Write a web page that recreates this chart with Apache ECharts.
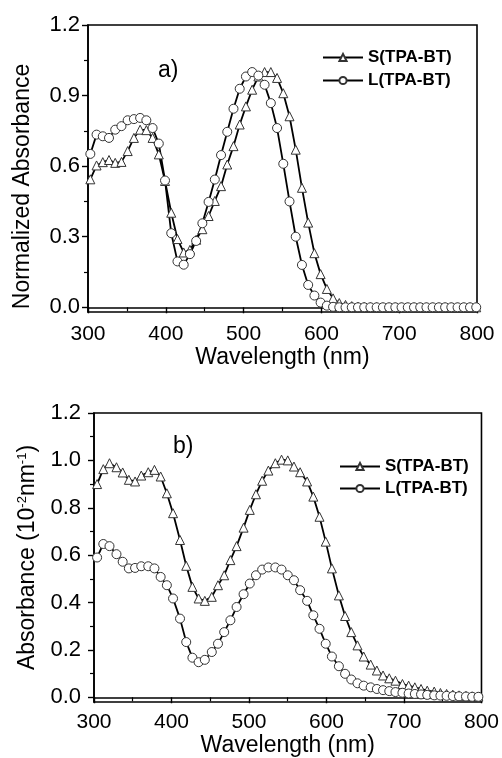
<!DOCTYPE html>
<html>
<head>
<meta charset="utf-8">
<script src="https://cdn.jsdelivr.net/npm/echarts@6/dist/echarts.min.js"></script>
<style>
  html, body { margin: 0; padding: 0; background: #fff; }
  #chart { width: 502px; height: 758px; }
</style>
</head>
<body>
<div id="chart"></div>
<script>
// panel a) normalized absorbance
var waveA = [303, 311, 319, 327, 335, 343, 351, 359, 367, 375,
  383, 391, 399, 407, 415, 423, 431, 439, 447, 455,
  463, 471, 479, 487, 495, 503, 511, 519, 527, 535,
  543, 551, 559, 567, 575, 583, 591, 599, 607, 615,
  623, 631, 639, 647, 655, 663, 671, 679, 687, 695,
  703, 711, 719, 727, 735, 743, 751, 759, 767, 775,
  783, 791, 799];
var sA = [0.544, 0.603, 0.617, 0.626, 0.614, 0.618, 0.664, 0.72, 0.755, 0.753,
  0.72, 0.65, 0.537, 0.402, 0.29, 0.233, 0.244, 0.287, 0.332, 0.388,
  0.452, 0.515, 0.607, 0.685, 0.777, 0.854, 0.925, 0.981, 1.0, 1.0,
  0.975, 0.91, 0.812, 0.67, 0.508, 0.36, 0.23, 0.141, 0.078, 0.038,
  0.018, 0.01, 0.005, 0.003, 0.002, 0.001, 0.001, 0, 0, 0,
  0, 0, 0, 0, 0, 0, 0, 0, 0, 0,
  0, 0, 0];
var lA = [0.652, 0.734, 0.727, 0.72, 0.755, 0.77, 0.795, 0.8, 0.805, 0.795,
  0.762, 0.696, 0.539, 0.315, 0.195, 0.181, 0.226, 0.282, 0.357, 0.448,
  0.543, 0.647, 0.746, 0.844, 0.929, 0.981, 1.0, 0.985, 0.946, 0.868,
  0.762, 0.61, 0.45, 0.3, 0.18, 0.095, 0.05, 0.02, 0.007, 0.002,
  0, 0, 0, 0, 0, 0, 0, 0, 0, 0,
  0, 0, 0, 0, 0, 0, 0, 0, 0, 0,
  0, 0, 0];

// panel b) absorbance (10^-2 nm^-1)
var waveB = [304, 312, 320, 329, 337, 345, 353, 361, 370, 378,
  386, 394, 402, 411, 419, 427, 435, 443, 452, 460,
  468, 476, 484, 493, 501, 509, 517, 525, 534, 542,
  550, 558, 566, 575, 583, 591, 599, 607, 616, 624,
  632, 640, 648, 657, 665, 673, 681, 689, 698, 706,
  714, 722, 730, 739, 747, 755, 763, 771, 780, 788,
  796];
var sB = [0.9, 0.963, 0.988, 0.971, 0.949, 0.918, 0.911, 0.936, 0.95, 0.96,
  0.932, 0.861, 0.777, 0.664, 0.555, 0.466, 0.417, 0.407, 0.424, 0.473,
  0.515, 0.579, 0.638, 0.716, 0.791, 0.857, 0.914, 0.957, 0.988, 1.003,
  1.0, 0.974, 0.95, 0.911, 0.847, 0.762, 0.657, 0.544, 0.43, 0.343,
  0.275, 0.219, 0.172, 0.138, 0.113, 0.092, 0.08, 0.07, 0.056, 0.049,
  0.042, 0.035, 0.028, 0.024, 0.018, 0.014, 0.011, 0.008, 0.006, 0.004,
  0.003];
var lB = [0.59, 0.647, 0.638, 0.604, 0.572, 0.544, 0.546, 0.553, 0.553, 0.544,
  0.508, 0.473, 0.417, 0.332, 0.233, 0.167, 0.148, 0.158, 0.191, 0.226,
  0.275, 0.325, 0.381, 0.435, 0.48, 0.515, 0.539, 0.548, 0.548, 0.539,
  0.515, 0.494, 0.452, 0.407, 0.346, 0.289, 0.226, 0.172, 0.131, 0.099,
  0.075, 0.059, 0.049, 0.042, 0.035, 0.03, 0.026, 0.022, 0.019, 0.016,
  0.014, 0.012, 0.01, 0.008, 0.007, 0.006, 0.005, 0.004, 0.003, 0.002,
  0.002];

var yTicksA = [0, 0.3, 0.6, 0.9, 1.2];
var yMinorA = [0.15, 0.45, 0.75, 1.05];
var yTicksB = [0, 0.2, 0.4, 0.6, 0.8, 1.0, 1.2];
var yMinorB = [0.1, 0.3, 0.5, 0.7, 0.9, 1.1];
var names = ['S(TPA-BT)', 'L(TPA-BT)'];

var FONT = 'Liberation Sans, Arial, sans-serif';
var black = '#000';

function pairs(xs, ys) {
  return xs.map(function (x, i) { return [x, ys[i]]; });
}

function xAxisFor(grid, margin, gap) {
  return {
    type: 'value', gridIndex: grid, min: 300, max: 800, interval: 100,
    name: 'Wavelength (nm)', nameLocation: 'middle', nameGap: gap,
    nameTextStyle: { fontFamily: FONT, fontSize: 23, color: black },
    axisLine: { lineStyle: { color: black, width: 1.6 } },
    axisTick: { length: 6, lineStyle: { color: black, width: 1.4 } },
    minorTick: { show: true, splitNumber: 2, length: 4, lineStyle: { color: black, width: 1.2 } },
    axisLabel: { fontFamily: FONT, fontSize: 21, color: black, margin: margin },
    splitLine: { show: false }
  };
}

function yAxisFor(grid, ticks, name, gap, margin, extra) {
  return {
    type: 'value', gridIndex: grid, position: 'left', min: -0.02, max: 1.2,
    name: name, nameLocation: 'middle', nameGap: gap,
    nameTextStyle: Object.assign({ fontFamily: FONT, fontSize: 23, color: black }, extra || {}),
    axisLine: { show: true, lineStyle: { color: black, width: 1.6 } },
    axisTick: { customValues: ticks, length: 6, lineStyle: { color: black, width: 1.4 } },
    axisLabel: {
      customValues: ticks, fontFamily: FONT, fontSize: 22, color: black, margin: margin,
      formatter: function (v) { return v.toFixed(1); }
    },
    splitLine: { show: false }
  };
}

// second axis on the same side, only for the short minor ticks
function minorY(grid, ticks) {
  return {
    type: 'value', gridIndex: grid, position: 'left', min: -0.02, max: 1.2,
    axisLine: { show: false },
    axisTick: { customValues: ticks, length: 4, lineStyle: { color: black, width: 1.2 } },
    axisLabel: { show: false },
    splitLine: { show: false }
  };
}

function lineSeries(name, xi, yi, data, symbol) {
  return {
    name: name, type: 'line', xAxisIndex: xi, yAxisIndex: yi,
    data: data, symbol: symbol, symbolSize: 9, showAllSymbol: true,
    lineStyle: { color: black, width: 1.8 },
    itemStyle: { color: '#fff', borderColor: '#333', borderWidth: 1 }
  };
}

var legendText = { fontFamily: FONT, fontSize: 17, fontWeight: 'bold', color: black };

var option = {
  animation: false,
  backgroundColor: '#fff',
  grid: [
    { left: 88, right: 25, top: 25, height: 287, show: true, borderColor: black, borderWidth: 1.6 },
    { left: 94, right: 19, top: 413, height: 289, show: true, borderColor: black, borderWidth: 1.6 }
  ],
  legend: [
    { data: names, orient: 'vertical', left: 317, top: 44, itemWidth: 40, itemHeight: 9, itemGap: 6, textStyle: legendText },
    { data: names, orient: 'vertical', left: 334, top: 453, itemWidth: 40, itemHeight: 9, itemGap: 5, textStyle: legendText }
  ],
  xAxis: [xAxisFor(0, 12, 26), xAxisFor(1, 10, 27)],
  yAxis: [
    yAxisFor(0, yTicksA, 'Normalized Absorbance', 54, 8, { padding: [0, 36, 0, 0] }),
    minorY(0, yMinorA),
    yAxisFor(1, yTicksB, 'Absorbance (10{s|-2}nm{s|-1})', 47, 13, {
      rich: { s: { fontFamily: FONT, fontSize: 13, color: black, padding: [0, 0, 12, 0] } }
    }),
    minorY(1, yMinorB)
  ],
  graphic: [
    { type: 'text', left: 158, top: 59, style: { text: 'a)', font: '23px ' + FONT, fill: black } },
    { type: 'text', left: 173, top: 435, style: { text: 'b)', font: '23px ' + FONT, fill: black } }
  ],
  series: [
    lineSeries(names[0], 0, 0, pairs(waveA, sA), 'triangle'),
    lineSeries(names[1], 0, 0, pairs(waveA, lA), 'circle'),
    lineSeries(names[0], 1, 2, pairs(waveB, sB), 'triangle'),
    lineSeries(names[1], 1, 2, pairs(waveB, lB), 'circle')
  ]
};

var chart = echarts.init(document.getElementById('chart'));
chart.setOption(option);
</script>
</body>
</html>
